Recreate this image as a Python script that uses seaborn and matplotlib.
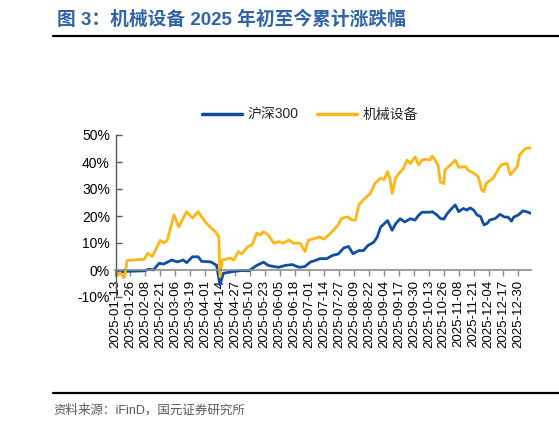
import matplotlib
matplotlib.use("Agg")
import matplotlib.pyplot as plt
from matplotlib.lines import Line2D
from matplotlib.ticker import FuncFormatter
import matplotlib.dates as mdates
import seaborn as sns
import pandas as pd

# ---------------- data ----------------
hs300_dates = [
    "2025-01-13", "2025-01-16", "2025-01-23", "2025-02-07", "2025-02-11", "2025-02-15",
    "2025-02-20", "2025-02-24", "2025-03-03", "2025-03-08", "2025-03-13", "2025-03-16",
    "2025-03-21", "2025-03-26", "2025-03-29", "2025-04-06", "2025-04-11", "2025-04-14",
    "2025-04-17", "2025-04-25", "2025-05-03", "2025-05-09", "2025-05-12", "2025-05-16",
    "2025-05-22", "2025-05-26", "2025-05-31", "2025-06-04", "2025-06-10", "2025-06-16",
    "2025-06-22", "2025-06-27", "2025-07-02", "2025-07-06", "2025-07-10", "2025-07-16",
    "2025-07-21", "2025-07-26", "2025-07-31", "2025-08-04", "2025-08-08", "2025-08-13",
    "2025-08-17", "2025-08-21", "2025-08-26", "2025-08-29", "2025-09-01", "2025-09-04",
    "2025-09-07", "2025-09-09", "2025-09-11", "2025-09-14", "2025-09-18", "2025-09-22",
    "2025-09-27", "2025-10-01", "2025-10-04", "2025-10-07", "2025-10-14", "2025-10-16",
    "2025-10-20", "2025-10-23", "2025-10-26", "2025-10-29", "2025-11-02", "2025-11-05",
    "2025-11-08", "2025-11-12", "2025-11-15", "2025-11-18", "2025-11-21", "2025-11-24",
    "2025-11-27", "2025-11-30", "2025-12-03", "2025-12-05", "2025-12-10", "2025-12-14",
    "2025-12-18", "2025-12-21", "2025-12-24", "2025-12-26", "2025-12-30", "2026-01-03",
    "2026-01-06", "2026-01-10",
]
hs300_values = [
    0.0, -1.0, -0.5, -0.3, 0.3, 0.0,
    2.5, 2.2, 3.7, 3.0, 3.7, 2.7,
    4.9, 4.9, 3.2, 3.0, 1.8, -5.5,
    -1.2, -0.6, -0.2, -0.3, 0.5, 1.7,
    2.9, 1.7, 1.3, 1.0, 1.7, 2.0,
    1.0, 1.3, 3.0, 3.5, 4.2, 4.2,
    5.4, 5.9, 8.2, 8.7, 6.0, 7.2,
    7.2, 9.1, 10.3, 12.2, 15.9, 17.1,
    18.3, 16.5, 14.7, 17.1, 19.0, 17.8,
    19.0, 18.5, 20.2, 21.4, 21.4, 21.6,
    20.4, 19.1, 18.8, 20.9, 22.8, 24.1,
    21.6, 22.8, 22.2, 23.0, 22.2, 20.4,
    19.8, 16.7, 17.3, 18.5, 19.1, 20.6,
    19.6, 19.6, 18.1, 19.6, 20.4, 21.9,
    21.6, 21.0,
]

machinery_dates = [
    "2025-01-13", "2025-01-15", "2025-01-17", "2025-01-20", "2025-01-21", "2025-01-23",
    "2025-01-29", "2025-02-07", "2025-02-10", "2025-02-14", "2025-02-21", "2025-02-24",
    "2025-02-27", "2025-03-05", "2025-03-09", "2025-03-16", "2025-03-21", "2025-03-26",
    "2025-04-01", "2025-04-06", "2025-04-10", "2025-04-13", "2025-04-14", "2025-04-16",
    "2025-04-23", "2025-04-26", "2025-04-30", "2025-05-03", "2025-05-08", "2025-05-12",
    "2025-05-16", "2025-05-19", "2025-05-22", "2025-05-26", "2025-05-31", "2025-06-04",
    "2025-06-08", "2025-06-13", "2025-06-17", "2025-06-23", "2025-06-27", "2025-06-30",
    "2025-07-06", "2025-07-10", "2025-07-13", "2025-07-16", "2025-07-22", "2025-07-26",
    "2025-07-29", "2025-08-03", "2025-08-07", "2025-08-10", "2025-08-13", "2025-08-17",
    "2025-08-23", "2025-08-27", "2025-09-01", "2025-09-04", "2025-09-07", "2025-09-09",
    "2025-09-11", "2025-09-14", "2025-09-17", "2025-09-21", "2025-09-24", "2025-09-27",
    "2025-10-01", "2025-10-04", "2025-10-07", "2025-10-10", "2025-10-14", "2025-10-16",
    "2025-10-18", "2025-10-21", "2025-10-23", "2025-10-26", "2025-10-27", "2025-10-30",
    "2025-11-02", "2025-11-05", "2025-11-08", "2025-11-14", "2025-11-16", "2025-11-21",
    "2025-11-25", "2025-11-28", "2025-11-30", "2025-12-02", "2025-12-08", "2025-12-13",
    "2025-12-15", "2025-12-20", "2025-12-23", "2025-12-29", "2025-12-31", "2026-01-05",
    "2026-01-10",
]
machinery_values = [
    0.0, -2.0, -1.0, -2.8, -2.5, 3.5,
    3.7, 4.0, 6.2, 5.0, 11.0, 10.0,
    11.0, 20.4, 16.0, 21.6, 19.2, 21.6,
    17.9, 15.6, 14.2, 12.3, -2.5, 3.7,
    4.4, 3.7, 6.8, 6.0, 8.6, 9.3,
    13.6, 13.0, 14.2, 13.0, 9.9, 10.5,
    9.9, 11.1, 9.9, 9.9, 6.8, 11.1,
    11.7, 12.3, 11.4, 12.3, 14.8, 16.7,
    19.1, 19.7, 18.5, 18.5, 24.1, 26.0,
    28.4, 32.1, 34.0, 33.5, 36.4, 34.0,
    28.4, 34.0, 35.8, 37.7, 40.7, 39.5,
    41.9, 38.9, 40.7, 41.0, 40.7, 42.2,
    41.0, 38.8, 32.6, 32.0, 37.0, 38.2,
    39.4, 40.7, 38.0, 38.3, 37.0, 35.8,
    34.6, 29.6, 29.0, 32.1, 34.0, 37.7,
    38.9, 39.5, 35.2, 38.3, 42.6, 45.0,
    45.3,
]

series_names = ["沪深300", "机械设备"]
series_colors = ["#0e4fa3", "#ffb614"]
y_ticks = [-10, 0, 10, 20, 30, 40, 50]
title_text = "图 3：机械设备 2025 年初至今累计涨跌幅"
source_text = "资料来源：iFinD，国元证券研究所"

# ---------------- build table ----------------
df = pd.concat([
    pd.DataFrame({"date": pd.to_datetime(hs300_dates), "value": hs300_values, "series": series_names[0]}),
    pd.DataFrame({"date": pd.to_datetime(machinery_dates), "value": machinery_values, "series": series_names[1]}),
], ignore_index=True)

sns.set_theme(style="white")
plt.rcParams["font.family"] = ["Liberation Sans", "Noto Sans CJK SC", "DejaVu Sans"]
plt.rcParams["axes.unicode_minus"] = False

W, H = 559, 428
fig = plt.figure(figsize=(W / 100, H / 100), dpi=100)
ax_l, ax_r, ax_b, ax_t = 115.5, 531, 297, 135
ax = fig.add_axes([ax_l / W, 1 - ax_b / H, (ax_r - ax_l) / W, (ax_b - ax_t) / H])

sns.lineplot(data=df, x="date", y="value", hue="series", hue_order=series_names,
             palette=series_colors, linewidth=2.0, estimator=None, ax=ax)

ax.set_ylim(-10, 50)
ax.set_yticks(y_ticks)
ax.yaxis.set_major_formatter(FuncFormatter(lambda v, p: f"{int(v)}%"))
xmin, xmax = df["date"].min(), df["date"].max()
ax.set_xlim(xmin, xmax)
ax.xaxis.set_major_locator(mdates.DayLocator(bymonthday=None))
ax.set_xticks(pd.date_range(xmin, xmax, freq="13D"))
ax.xaxis.set_major_formatter(mdates.DateFormatter("%Y-%m-%d"))
ax.set_xlabel("")
ax.set_ylabel("")

for s in ["top", "right"]:
    ax.spines[s].set_visible(False)
ax.spines["bottom"].set_position(("data", 0))
ax.spines["bottom"].set_color("#8c8c8c")
ax.spines["bottom"].set_linewidth(1.2)
ax.spines["left"].set_color("#595959")
ax.spines["left"].set_linewidth(1.0)
ax.tick_params(axis="y", direction="in", length=4, width=1, color="#595959",
               labelsize=10, labelcolor="black", left=True, pad=4)
ax.tick_params(axis="x", direction="out", length=4, width=1, color="#8c8c8c",
               bottom=True, pad=3, labelrotation=90, labelsize=9.5, labelcolor="black")
ax.grid(False)
ax.set_facecolor("white")

leg = ax.legend(loc="center", bbox_to_anchor=(0.468, 1.123), ncol=2, frameon=False,
                fontsize=10, handlelength=2.9, handletextpad=0.4, columnspacing=1.3)
for line in leg.get_lines():
    line.set_linewidth(2.5)

fig.text(57 / W, 1 - 20 / H, title_text, ha="left", va="center", fontsize=13.5,
         fontweight="bold", color="#2f64a8")
fig.add_artist(Line2D([53 / W, 1.0], [1 - 36 / H] * 2, color="black", lw=1.6))
fig.add_artist(Line2D([53 / W, 1.0], [1 - 393 / H] * 2, color="black", lw=1.6))
fig.text(53 / W, 1 - 410 / H, source_text, ha="left", va="center", fontsize=9,
         color="#595959")

fig.savefig("out.png", dpi=100, facecolor="white")
